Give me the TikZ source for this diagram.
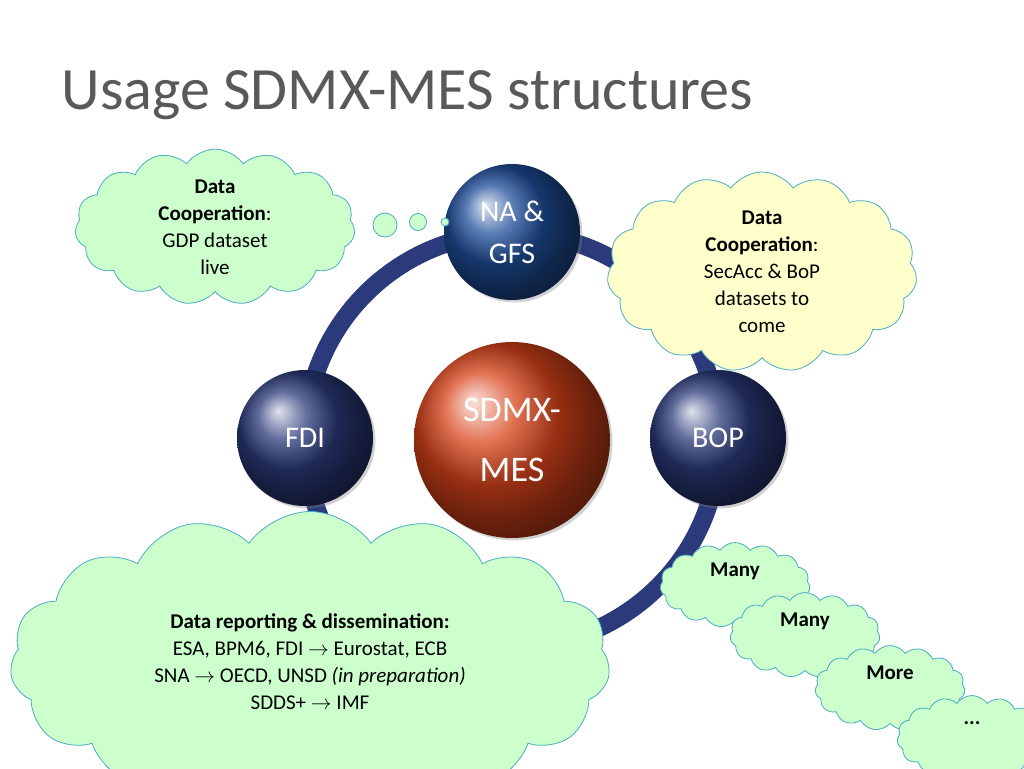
\documentclass[tikz,border=0pt]{standalone}
\usepackage{fontspec}
\setmainfont{Carlito}
\usetikzlibrary{shapes.symbols,shadows}
\definecolor{ringblue}{HTML}{2B3A7A}
\definecolor{hubblue}{HTML}{1F4E9A}
\definecolor{hubred}{HTML}{D8431A}
\definecolor{cloudgreen}{HTML}{CCFFCC}
\definecolor{cloudyellow}{HTML}{FFFFCC}
\definecolor{cloudline}{HTML}{4BACC6}
\definecolor{titlegray}{HTML}{595959}
\tikzset{
  hub/.style={circle, draw=none, text=white, align=center, font=\fontsize{30}{42}\selectfont,
    drop shadow={opacity=0.35}},
  idea/.style={cloud, cloud puffs=15, cloud puff arc=110, aspect=1.7, draw=cloudline, thick,
    align=center, font=\fontsize{21}{27}\selectfont, inner sep=0pt},
  bubble/.style={circle, draw=cloudline, thick, fill=cloudgreen, inner sep=0pt}
}
\begin{document}
\begin{tikzpicture}[x=1pt,y=-1pt]
\useasboundingbox (0,0) rectangle (1024,768);
\fill[white] (0,0) rectangle (1024,768);

% title
\node (title) [text=titlegray, font=\fontsize{60}{66}\selectfont, anchor=west,
  preaction={transform canvas={shift={(2,-2)}}, text=gray!35}] at (58,95) {Usage SDMX-MES structures};

% ring
\draw[ringblue, line width=18pt] (512,440) circle (207);

% hubs
\node (core) [hub, ball color=hubred, minimum size=196pt, font=\fontsize{36}{60}\selectfont] at (512,440) {SDMX-\\MES};
\node (nagfs) [hub, ball color=hubblue, minimum size=136pt] at (512,232) {NA \&\\GFS};
\node (bop) [hub, ball color=ringblue, minimum size=136pt] at (718,438) {BOP};
\node (fdi) [hub, ball color=ringblue, minimum size=136pt] at (305,438) {FDI};

% clouds
\node (gdp) [idea, fill=cloudgreen, minimum width=280pt, minimum height=150pt] at (215,227)
  {\textbf{Data}\\\textbf{Cooperation}:\\GDP dataset\\live};
\node (b1) [bubble, minimum size=24pt] at (385,225) {};
\node (b2) [bubble, minimum size=17pt] at (418,222) {};
\node (b3) [bubble, minimum size=8pt] at (445,222) {};
\node (secacc) [idea, fill=cloudyellow, minimum width=310pt, minimum height=170pt] at (762,272)
  {\textbf{Data}\\\textbf{Cooperation}:\\SecAcc \& BoP\\datasets to\\come};
\node (report) [idea, fill=cloudgreen, minimum width=600pt, minimum height=235pt] at (310,662)
  {\textbf{Data reporting \& dissemination:}\\ESA, BPM6, FDI $\rightarrow$ Eurostat, ECB\\SNA $\rightarrow$ OECD, UNSD \textit{(in preparation)}\\SDDS+ $\rightarrow$ IMF};
\node (many1) [idea, fill=cloudgreen, minimum width=150pt, minimum height=85pt, text depth=30pt] at (735,585) {\textbf{Many}};
\node (many2) [idea, fill=cloudgreen, minimum width=150pt, minimum height=85pt, text depth=30pt] at (805,635) {\textbf{Many}};
\node (more) [idea, fill=cloudgreen, minimum width=150pt, minimum height=85pt, text depth=30pt] at (890,688) {\textbf{More}};
\node (dots) [idea, fill=cloudgreen, minimum width=150pt, minimum height=85pt, text depth=30pt] at (972,738) {\textbf{...}};
\end{tikzpicture}
\end{document}
